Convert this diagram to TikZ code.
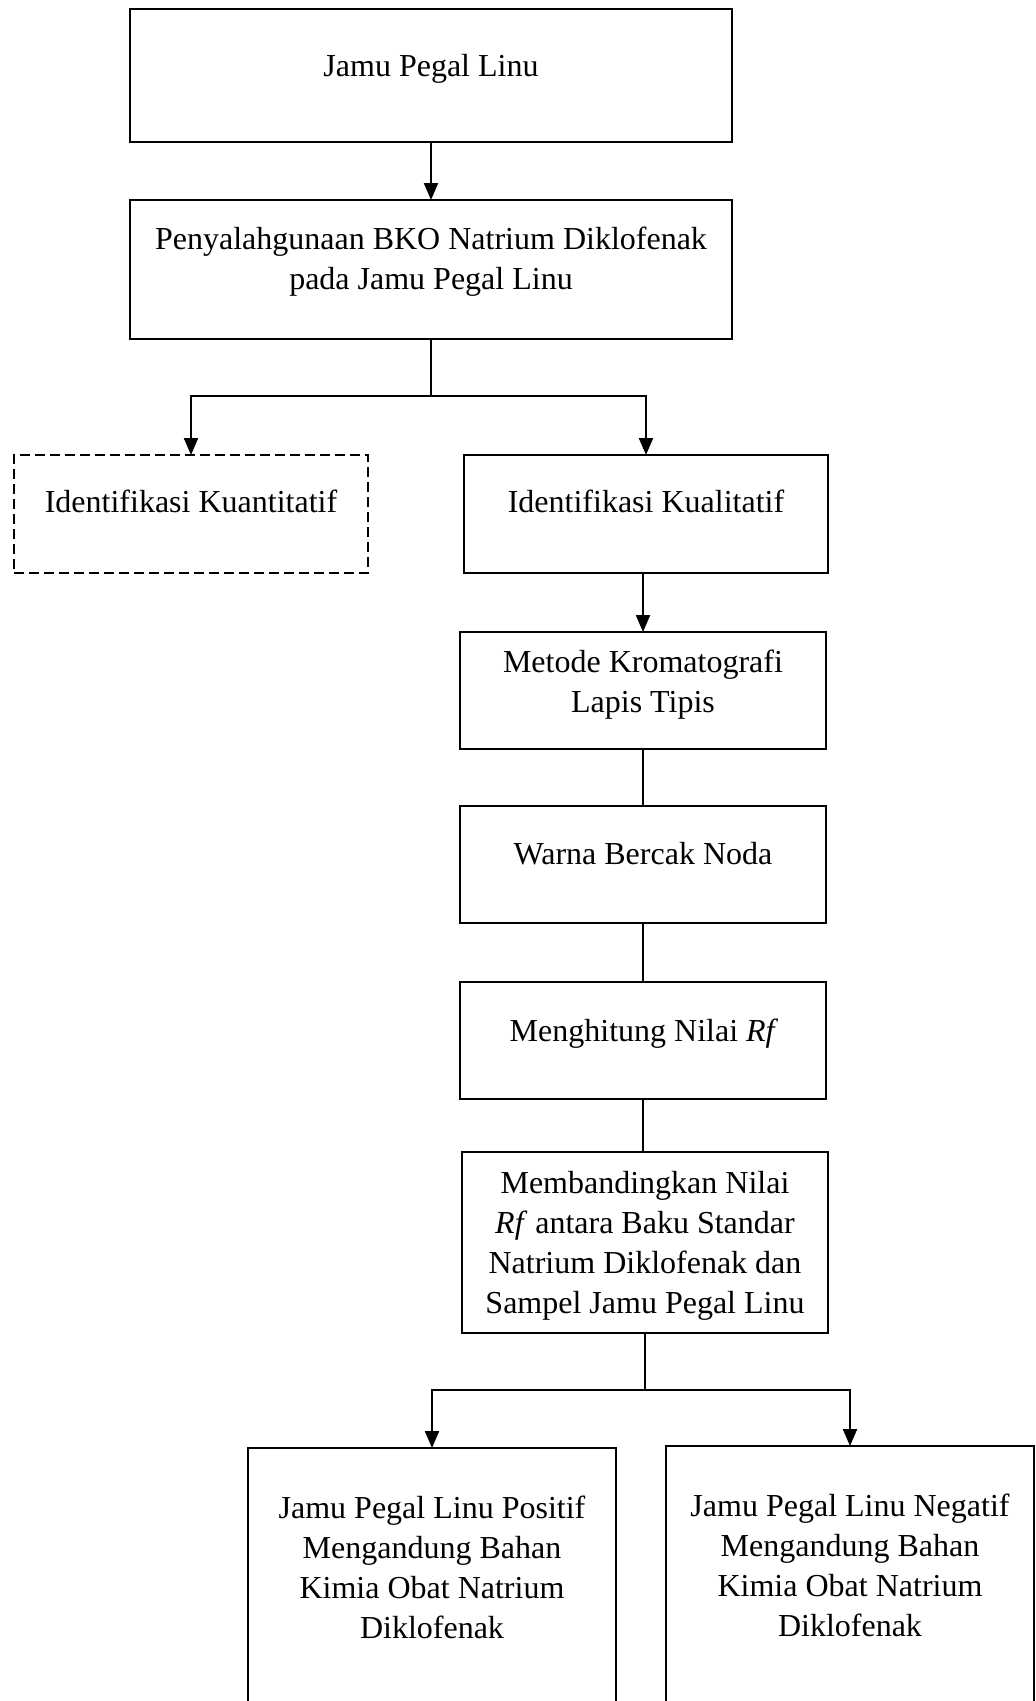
\documentclass[tikz,border=0pt]{standalone}
\usepackage{fontspec}
\setmainfont{Liberation Serif}
\usetikzlibrary{arrows.meta}
\begin{document}
\begin{tikzpicture}[x=1pt,y=-1pt,
  box/.style={draw, line width=2.8pt, inner sep=0pt, outer sep=0pt, anchor=north west},
  dbox/.style={box, dash pattern=on 10pt off 5pt},
  txt/.style={font=\fontsize{32}{39.7}\selectfont, align=center, anchor=base, inner sep=0pt},
  conn/.style={line width=2.2pt},
  arr/.style={conn, -{Triangle[length=17pt,width=14pt]}}]
\clip (0,0) rectangle (1036,1701);
\fill[white] (0,0) rectangle (1036,1701);
% boxes
\node[box, minimum width=602pt, minimum height=133pt] (b1) at (130,9) {};
\node[box, minimum width=602pt, minimum height=139pt] (b2) at (130,200) {};
\node[dbox, minimum width=354pt, minimum height=118pt] (kuan) at (14,455) {};
\node[box, minimum width=364pt, minimum height=118pt] (kual) at (464,455) {};
\node[box, minimum width=366pt, minimum height=117pt] (metode) at (460,632) {};
\node[box, minimum width=366pt, minimum height=117pt] (warna) at (460,806) {};
\node[box, minimum width=366pt, minimum height=117pt] (hitung) at (460,982) {};
\node[box, minimum width=366pt, minimum height=181pt] (banding) at (462,1152) {};
\node[box, minimum width=368pt, minimum height=320pt] (pos) at (248,1448) {};
\node[box, minimum width=368pt, minimum height=320pt] (neg) at (666,1446) {};
% texts (base anchor = baseline of the last line)
\node[txt] (t1) at (431,76) {Jamu Pegal Linu};
\node[txt] (t2) at (431,289) {Penyalahgunaan BKO Natrium Diklofenak\\pada Jamu Pegal Linu};
\node[txt] (t3) at (191,512) {Identifikasi Kuantitatif};
\node[txt] (t4) at (646,512) {Identifikasi Kualitatif};
\node[txt] (t5) at (643,712) {Metode Kromatografi\\Lapis Tipis};
\node[txt] (t6) at (643,864) {Warna Bercak Noda};
\node[txt] (t7) at (644,1041) {Menghitung Nilai \textit{Rf}};
\node[txt] (t8) at (645,1313) {Membandingkan Nilai\\\textit{Rf} antara Baku Standar\\Natrium Diklofenak dan\\Sampel Jamu Pegal Linu};
\node[txt] (t9) at (432,1638) {Jamu Pegal Linu Positif\\Mengandung Bahan\\Kimia Obat Natrium\\Diklofenak};
\node[txt] (t10) at (850,1636) {Jamu Pegal Linu Negatif\\Mengandung Bahan\\Kimia Obat Natrium\\Diklofenak};
% connectors
\draw[arr] (b1.south) -- (b2.north);
\coordinate (j1) at ([yshift=-57pt]b2.south);
\draw[conn] (b2.south) -- (j1);
\draw[arr] (j1) -| (kuan.north);
\draw[arr] (j1) -| (kual.north);
\draw[arr] (metode.north |- kual.south) -- (metode.north);
\draw[conn] (metode.south) -- (warna.north);
\draw[conn] (warna.south) -- (hitung.north);
\draw[conn] (hitung.south) -- (hitung.south |- banding.north);
\coordinate (j2) at ([yshift=-57pt]banding.south);
\draw[conn] (banding.south) -- (j2);
\draw[arr] (j2) -| (pos.north);
\draw[arr] (j2) -| (neg.north);
\end{tikzpicture}
\end{document}
